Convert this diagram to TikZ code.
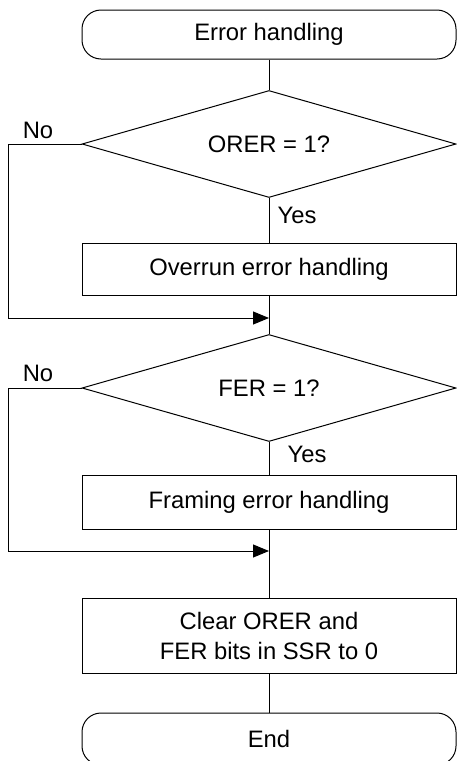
\documentclass[tikz,border=0pt]{standalone}
\usepackage{fontspec}
\setmainfont{Liberation Sans}
\usetikzlibrary{arrows.meta, positioning, shapes.geometric}

\begin{document}
\begin{tikzpicture}[x=1pt, y=-1pt, line width=1pt,
    font=\fontsize{23.8}{30}\selectfont,
    term/.style={rectangle, rounded corners=19pt, draw, minimum width=374pt, minimum height=49pt},
    proc/.style={rectangle, draw, minimum width=374pt, align=center},
    decide/.style={diamond, draw, aspect=3.5, inner sep=0pt, minimum width=374pt, minimum height=107pt},
    flow/.style={-{Triangle[length=16pt, width=13pt]}}]
      \useasboundingbox (0,0) rectangle (457,761);
      \node[term] (start) at (269,34.5) {Error handling};
      \node[decide] (d1) at (269,144) {ORER = 1?};
      \node[proc, minimum height=52pt] (p1) at (269,269) {Overrun error handling};
      \node[decide] (d2) at (269,388) {FER = 1?};
      \node[proc, minimum height=54pt] (p2) at (269,502) {Framing error handling};
      \node[proc, minimum height=75pt] (p3) at (269,635.5) {Clear ORER and\\FER bits in SSR to 0};
      \node[term, minimum height=52pt] (stop) at (269,739) {End};
      \node (no1) at (38,130) {No};
      \node (yes1) at (297,215) {Yes};
      \node (no2) at (38,373) {No};
      \node (yes2) at (307,454) {Yes};
      \coordinate (j1) at (269,318);
      \coordinate (l1) at (8,318);
      \coordinate (j2) at (269,551);
      \coordinate (l2) at (8,551);
      \draw (start) -- (d1);
      \draw (d1) -- (p1);
      \draw (p1) -- (d2);
      \draw[flow] (d1.west) -| (l1) -- (j1);
      \draw (d2) -- (p2);
      \draw (p2) -- (p3);
      \draw[flow] (d2.west) -| (l2) -- (j2);
      \draw (p3) -- (stop);
    \end{tikzpicture}
\end{document}
